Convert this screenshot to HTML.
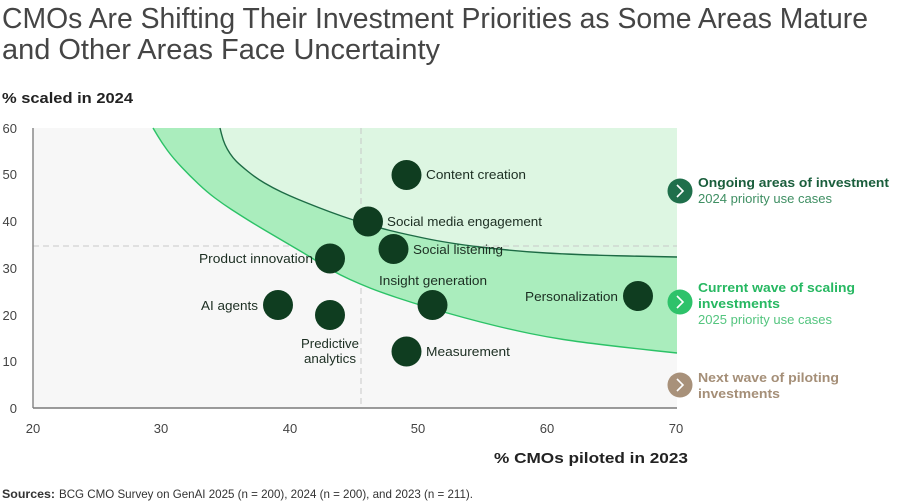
<!DOCTYPE html>
<html>
<head>
<meta charset="utf-8">
<style>
html,body{margin:0;padding:0;background:#fff;}
svg{display:block;}
text{font-family:"Liberation Sans",sans-serif;}
</style>
</head>
<body>
<svg width="900" height="504" viewBox="0 0 900 504" xmlns="http://www.w3.org/2000/svg">
  <!-- Title -->
  <text x="2" y="28" font-size="29" fill="#454545" textLength="866" lengthAdjust="spacingAndGlyphs">CMOs Are Shifting Their Investment Priorities as Some Areas Mature</text>
  <text x="2" y="59" font-size="29" fill="#454545" textLength="438" lengthAdjust="spacingAndGlyphs">and Other Areas Face Uncertainty</text>

  <text x="2" y="103" font-size="15" font-weight="bold" fill="#222" textLength="131" lengthAdjust="spacingAndGlyphs">% scaled in 2024</text>

  <!-- plot bg -->
  <rect x="33" y="128" width="644" height="280" fill="#f7f7f7"/>

  <!-- light region (above upper curve) -->
  <path d="M220,128 L221.5,134 Q223,140 225,144.5 Q227,149 230,153.5 Q233,158 236.5,161.5 Q240,165 248,171.5 Q256,178 264.5,183 Q273,188 281.5,192 Q290,196 298.5,199.5 Q307,203 318.5,207.5 Q330,212 341.5,216 Q353,220 366.5,224 Q380,228 390,230.5 Q400,233 423.5,238 Q447,243 480,247 Q513,251 546.5,253 Q580,255 628.5,256 L677,257 L677,128 Z" fill="#ddf6e2"/>

  <!-- dashed lines -->
  <line x1="33" y1="246" x2="677" y2="246" stroke="#c8c8c8" stroke-width="1" stroke-dasharray="6,4"/>
  <line x1="361" y1="128" x2="361" y2="408" stroke="#c8c8c8" stroke-width="1" stroke-dasharray="6,4"/>

  <!-- band -->
  <path d="M153,128 L157.5,135.5 Q162,143 167.5,150.5 Q173,158 181.5,167 Q190,176 198.5,184 Q207,192 215,198 Q223,204 231.5,209.5 Q240,215 248,220 Q256,225 264.5,230 Q273,235 281.5,240 Q290,245 298.5,250 Q307,255 315,260 Q323,265 331.5,270 Q340,275 350,279.5 Q360,284 370,288 Q380,292 396.5,297.5 Q413,303 430,308 Q447,313 463.5,317.5 Q480,322 496.5,326 Q513,330 530,333.5 Q547,337 563.5,339.5 Q580,342 605,345 Q630,348 653.5,350.5 L677,353 L677,257 L628.5,256 Q580,255 546.5,253 Q513,251 480,247 Q447,243 423.5,238 Q400,233 390,230.5 Q380,228 366.5,224 Q353,220 341.5,216 Q330,212 318.5,207.5 Q307,203 298.5,199.5 Q290,196 281.5,192 Q273,188 264.5,183 Q256,178 248,171.5 Q240,165 236.5,161.5 Q233,158 230,153.5 Q227,149 225,144.5 Q223,140 221.5,134 L220,128 Z" fill="#aaedbd"/>

  <!-- curves -->
  <path d="M153,128 L157.5,135.5 Q162,143 167.5,150.5 Q173,158 181.5,167 Q190,176 198.5,184 Q207,192 215,198 Q223,204 231.5,209.5 Q240,215 248,220 Q256,225 264.5,230 Q273,235 281.5,240 Q290,245 298.5,250 Q307,255 315,260 Q323,265 331.5,270 Q340,275 350,279.5 Q360,284 370,288 Q380,292 396.5,297.5 Q413,303 430,308 Q447,313 463.5,317.5 Q480,322 496.5,326 Q513,330 530,333.5 Q547,337 563.5,339.5 Q580,342 605,345 Q630,348 653.5,350.5 L677,353" fill="none" stroke="#2cc267" stroke-width="1.4"/>
  <path d="M220,128 L221.5,134 Q223,140 225,144.5 Q227,149 230,153.5 Q233,158 236.5,161.5 Q240,165 248,171.5 Q256,178 264.5,183 Q273,188 281.5,192 Q290,196 298.5,199.5 Q307,203 318.5,207.5 Q330,212 341.5,216 Q353,220 366.5,224 Q380,228 390,230.5 Q400,233 423.5,238 Q447,243 480,247 Q513,251 546.5,253 Q580,255 628.5,256 L677,257" fill="none" stroke="#1d6b45" stroke-width="1.4"/>

  <!-- axes -->
  <line x1="33" y1="128" x2="33" y2="408" stroke="#8a8a8a" stroke-width="1.5"/>
  <line x1="33" y1="408" x2="677" y2="408" stroke="#7a7a7a" stroke-width="1.5"/>

  <!-- y tick labels -->
  <g font-size="13" fill="#444" text-anchor="end">
    <text x="17" y="133">60</text>
    <text x="17" y="179">50</text>
    <text x="17" y="226">40</text>
    <text x="17" y="273">30</text>
    <text x="17" y="320">20</text>
    <text x="17" y="366">10</text>
    <text x="17" y="413">0</text>
  </g>
  <!-- x tick labels -->
  <g font-size="13" fill="#444" text-anchor="middle">
    <text x="33" y="433">20</text>
    <text x="161" y="433">30</text>
    <text x="290" y="433">40</text>
    <text x="418" y="433">50</text>
    <text x="547" y="433">60</text>
    <text x="676" y="433">70</text>
  </g>

  <text x="494" y="463" font-size="15" font-weight="bold" fill="#222" textLength="194" lengthAdjust="spacingAndGlyphs">% CMOs piloted in 2023</text>

  <!-- circles -->
  <g fill="#0f3d20">
    <circle cx="406.5" cy="175" r="15"/>
    <circle cx="368" cy="221.5" r="15"/>
    <circle cx="393.5" cy="249" r="15"/>
    <circle cx="330" cy="258.5" r="15"/>
    <circle cx="432.5" cy="305" r="15"/>
    <circle cx="638" cy="296" r="15"/>
    <circle cx="278" cy="305" r="15"/>
    <circle cx="330" cy="315" r="15"/>
    <circle cx="406.5" cy="351.5" r="15"/>
  </g>

  <!-- labels -->
  <g font-size="13" fill="#1c2e22">
    <text x="426" y="179" textLength="100" lengthAdjust="spacingAndGlyphs">Content creation</text>
    <text x="387" y="226" textLength="155" lengthAdjust="spacingAndGlyphs">Social media engagement</text>
    <text x="413" y="254" textLength="90" lengthAdjust="spacingAndGlyphs">Social listening</text>
    <text x="199" y="263" textLength="114" lengthAdjust="spacingAndGlyphs">Product innovation</text>
    <text x="379" y="285" textLength="108" lengthAdjust="spacingAndGlyphs">Insight generation</text>
    <text x="525" y="301" textLength="93" lengthAdjust="spacingAndGlyphs">Personalization</text>
    <text x="201" y="310" textLength="57" lengthAdjust="spacingAndGlyphs">AI agents</text>
    <text x="301" y="348" textLength="58" lengthAdjust="spacingAndGlyphs">Predictive</text>
    <text x="304" y="363" textLength="52" lengthAdjust="spacingAndGlyphs">analytics</text>
    <text x="426" y="356" textLength="84" lengthAdjust="spacingAndGlyphs">Measurement</text>
  </g>

  <!-- legend -->
  <g>
    <circle cx="680" cy="191" r="12.5" fill="#1f6f4b"/>
    <path d="M677,185 L683,191 L677,197" fill="none" stroke="#fff" stroke-width="1.6"/>
    <circle cx="680" cy="302" r="12.5" fill="#2ec26a"/>
    <path d="M677,296 L683,302 L677,308" fill="none" stroke="#fff" stroke-width="1.6"/>
    <circle cx="680" cy="385" r="12.5" fill="#a8917a"/>
    <path d="M677,379 L683,385 L677,391" fill="none" stroke="#fff" stroke-width="1.6"/>
  </g>
  <text x="698" y="187" font-size="13" font-weight="bold" fill="#1a5e3c" textLength="191" lengthAdjust="spacingAndGlyphs">Ongoing areas of investment</text>
  <text x="698" y="203" font-size="13" fill="#3f8f63" textLength="134" lengthAdjust="spacingAndGlyphs">2024 priority use cases</text>
  <text x="698" y="292" font-size="13" font-weight="bold" fill="#27b862" textLength="157" lengthAdjust="spacingAndGlyphs">Current wave of scaling</text>
  <text x="698" y="308" font-size="13" font-weight="bold" fill="#27b862" textLength="82" lengthAdjust="spacingAndGlyphs">investments</text>
  <text x="698" y="324" font-size="13" fill="#54c57f" textLength="134" lengthAdjust="spacingAndGlyphs">2025 priority use cases</text>
  <text x="698" y="382" font-size="13" font-weight="bold" fill="#a58f78" textLength="141" lengthAdjust="spacingAndGlyphs">Next wave of piloting</text>
  <text x="698" y="398" font-size="13" font-weight="bold" fill="#a58f78" textLength="82" lengthAdjust="spacingAndGlyphs">investments</text>

  <!-- sources -->
  <text x="2" y="498" font-size="12" font-weight="bold" fill="#333" textLength="53" lengthAdjust="spacingAndGlyphs">Sources:</text>
  <text x="59" y="498" font-size="12" fill="#333" textLength="414" lengthAdjust="spacingAndGlyphs">BCG CMO Survey on GenAI 2025 (n = 200), 2024 (n = 200), and 2023 (n = 211).</text>
</svg>
</body>
</html>
